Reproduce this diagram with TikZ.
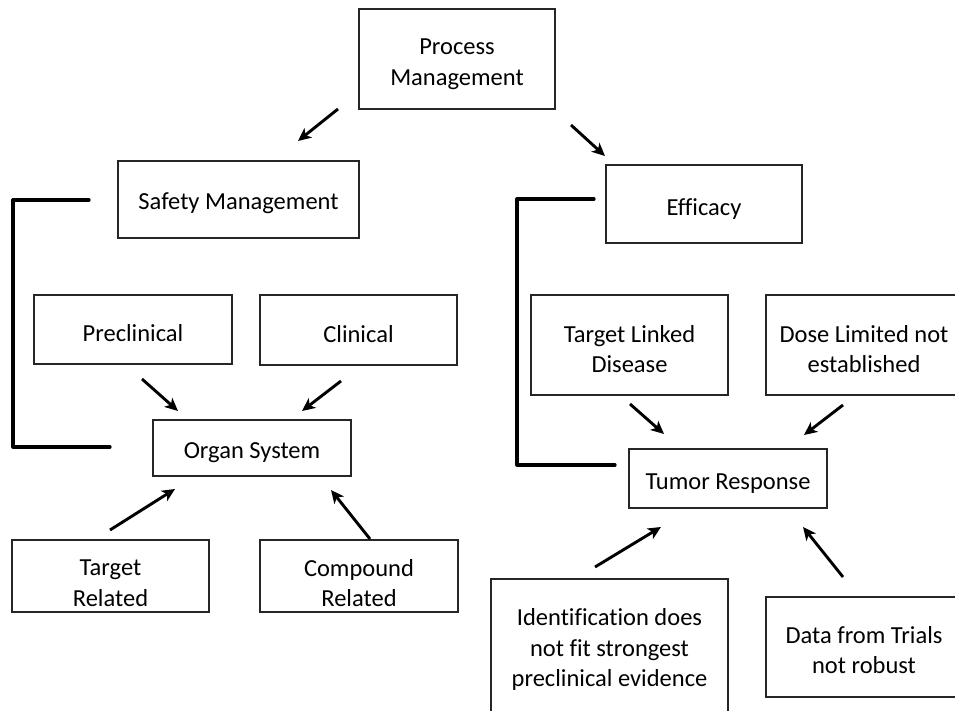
\documentclass[tikz,border=0pt]{standalone}
\usepackage{fontspec}
\setmainfont[Ligatures=NoCommon]{Carlito}
\usetikzlibrary{arrows.meta}
\tikzset{
  box/.style={draw=black!85, line width=1.6pt, inner sep=0pt},
  txt/.style={align=center, font=\fontsize{24.5}{30.5}\selectfont, inner sep=0pt},
  arr/.style={-{Stealth[length=13pt,width=12pt,inset=3.5pt]}, line width=2.9pt},
  brk/.style={line width=3.2pt, line join=round, line cap=round}
}
% name, x1, y1, x2, y2, text shift, text
\newcommand\bx[7]{%
  \node[box, minimum width={#4-#2}, minimum height={#5-#3}] (#1) at ({(#2+#4)/2},{-(#3+#5)/2}) {};
  \node[txt] (#1-t) at ([yshift=-#6pt]#1.center) {#7};}
\begin{document}
\begin{tikzpicture}[x=1pt,y=1pt]
\useasboundingbox (0,0) rectangle (955,-711);
\clip (0,0) rectangle (955,-711);
% boxes
\bx{pm}{359}{9}{555}{109}{5}{Process\\Management}
\bx{sm}{118}{161}{359}{238}{4}{Safety Management}
\bx{ef}{606}{165}{802}{243}{5}{Efficacy}
\bx{pre}{34}{295}{232}{364}{4}{Preclinical}
\bx{cli}{260}{295}{457}{365}{4}{Clinical}
\bx{org}{153}{420}{351}{476}{5}{Organ System}
\bx{tr}{12}{540}{209}{612}{7}{Target\\Related}
\bx{cr}{260}{540}{458}{612}{7}{Compound\\Related}
\bx{tld}{531}{295}{728}{395}{4}{Target Linked\\Disease}
\bx{dl}{766}{295}{962}{395}{4}{Dose Limited not\\established}
\bx{tum}{629}{449}{827}{508}{5}{Tumor Response}
\bx{idf}{491}{579}{728}{720}{0}{Identification does\\not fit strongest\\preclinical evidence}
\bx{dt}{766}{597}{962}{697}{3}{Data from Trials\\not robust}
% arrow end points
\coordinate (a1s) at (338,-109); \coordinate (a1e) at (298,-141);
\coordinate (a2s) at (571,-125); \coordinate (a2e) at (605,-156);
\coordinate (a3s) at (142,-379); \coordinate (a3e) at (178,-411);
\coordinate (a4s) at (341,-381); \coordinate (a4e) at (302,-411);
\coordinate (a5s) at (110,-530); \coordinate (a5e) at (175,-489);
\coordinate (a6s) at (370,-539); \coordinate (a6e) at (331,-490);
\coordinate (a7s) at (630,-404); \coordinate (a7e) at (664,-434);
\coordinate (a8s) at (843,-405); \coordinate (a8e) at (804,-435);
\coordinate (a9s) at (595,-567); \coordinate (a9e) at (661,-527);
\coordinate (a10s) at (843,-577); \coordinate (a10e) at (803,-527);
\draw[arr] (a1s) -- (a1e);
\draw[arr] (a2s) -- (a2e);
\draw[arr] (a3s) -- (a3e);
\draw[arr] (a4s) -- (a4e);
\draw[arr] (a5s) -- (a5e);
\draw[arr] (a6s) -- (a6e);
\draw[arr] (a7s) -- (a7e);
\draw[arr] (a8s) -- (a8e);
\draw[arr] (a9s) -- (a9e);
\draw[arr] (a10s) -- (a10e);
% brackets
\coordinate (lb1) at (89,-200); \coordinate (lb2) at (13,-200);
\coordinate (lb3) at (13,-447); \coordinate (lb4) at (110,-447);
\draw[brk] (lb1) -- (lb2) -- (lb3) -- (lb4);
\coordinate (rb1) at (594,-199); \coordinate (rb2) at (517,-199);
\coordinate (rb3) at (517,-465); \coordinate (rb4) at (615,-465);
\draw[brk] (rb1) -- (rb2) -- (rb3) -- (rb4);
\end{tikzpicture}
\end{document}
